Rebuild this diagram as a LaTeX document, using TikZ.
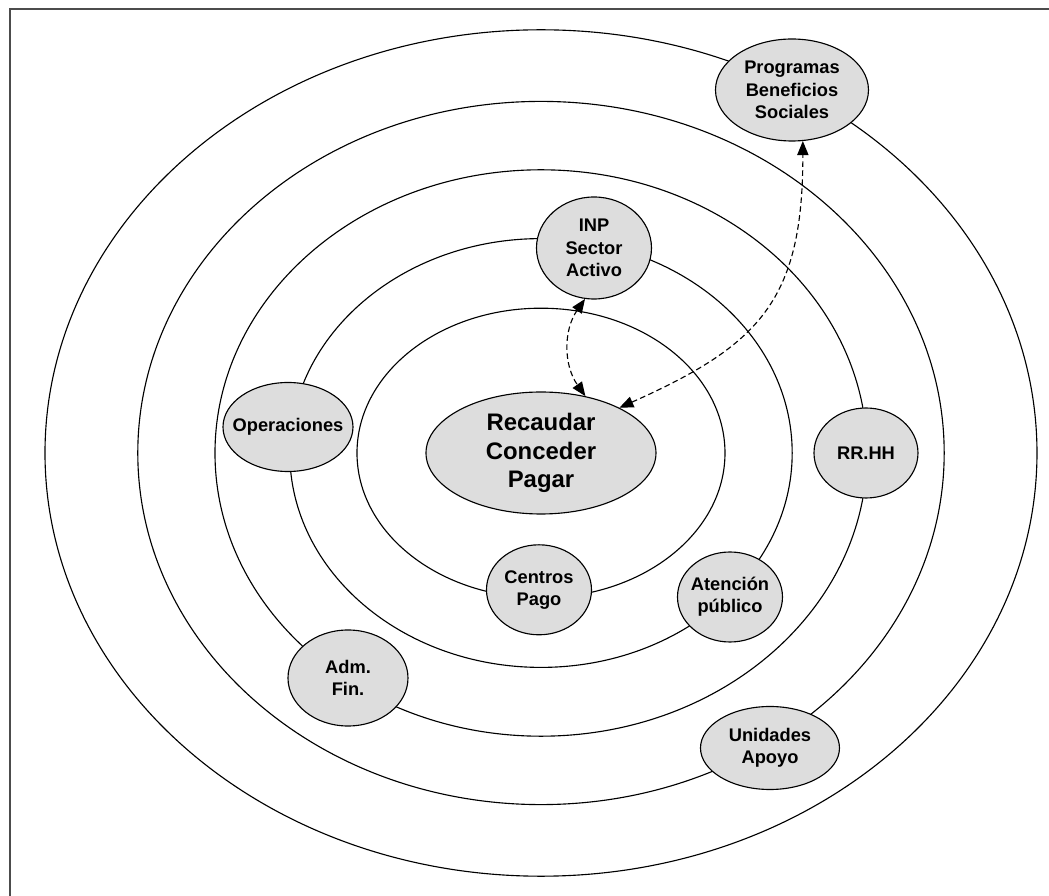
\documentclass[tikz,border=0pt]{standalone}
\usepackage{fontspec}
\setmainfont{Liberation Sans}
\usepackage{tikz}
\usetikzlibrary{shapes.geometric,arrows.meta}

\definecolor{bubblegray}{RGB}{221,221,221}
\tikzset{
  ring/.style={draw=black, line width=0.8pt},
  bubble/.style={ellipse, draw=black, line width=0.8pt, fill=bubblegray,
    inner xsep=-7pt, inner ysep=0pt, align=center,
    font=\fontsize{13}{15.8}\selectfont\bfseries},
  link/.style={dash pattern=on 4pt off 2.4pt, line width=0.8pt, <->,
    >={Triangle[length=10pt,width=8pt]}}
}

\begin{document}
\begin{tikzpicture}

\useasboundingbox (-13.525,-11.075) rectangle (12.7,11.325);

% frame
\coordinate (FB) at (-13.275,-11.4);
\coordinate (FT) at (13.0,11.1);
\draw [draw=black!70, line width=1.4pt] (FB) |- (FT);

\coordinate (O) at (0,0);

% the five rings
\draw [ring] (O) ellipse (12.4cm and 10.58cm);
\draw [ring] (O) ellipse (10.08cm and 8.79cm);
\draw [ring] (O) ellipse (8.15cm and 7.08cm);
\draw [ring] (O) ellipse (6.28cm and 5.36cm);
\draw [ring] (O) ellipse (4.6cm and 3.62cm);

\node (rec) [bubble, minimum width=5.75cm, minimum height=3.05cm,
  font=\fontsize{17}{20.3}\selectfont\bfseries] at (O) {Recaudar\\Conceder\\Pagar};
\node (inp) [bubble, minimum width=2.875cm, minimum height=2.55cm] at (1.325,5.125) {INP\\Sector\\Activo};
\node (prog) [bubble, minimum width=3.825cm, minimum height=2.55cm] at (6.275,9.075) {Programas\\Beneficios\\Sociales};
\node (oper) [bubble, minimum width=3.25cm, minimum height=2.225cm] at (-6.325,0.65) {Operaciones};
\node (rrhh) [bubble, minimum width=2.6cm, minimum height=2.25cm] at (8.125,0) {RR.HH};
\node (aten) [bubble, minimum width=2.625cm, minimum height=2.25cm] at (4.725,-3.6) {Atención\\público};
\node (cent) [bubble, minimum width=2.625cm, minimum height=2.25cm] at (-0.05,-3.42) {Centros\\Pago};
\node (adm) [bubble, minimum width=3.0cm, minimum height=2.4cm] at (-4.825,-5.625) {Adm.\\Fin.};
\node (unid) [bubble, minimum width=3.475cm, minimum height=2.075cm] at (5.725,-7.375) {Unidades\\Apoyo};

% dashed links
\draw [link] (inp.260) to[bend right=35] (rec.52);
\draw [link] (rec.30) .. controls (5.475,2.7) and (6.55,3.825) .. (prog.282);

\end{tikzpicture}
\end{document}
